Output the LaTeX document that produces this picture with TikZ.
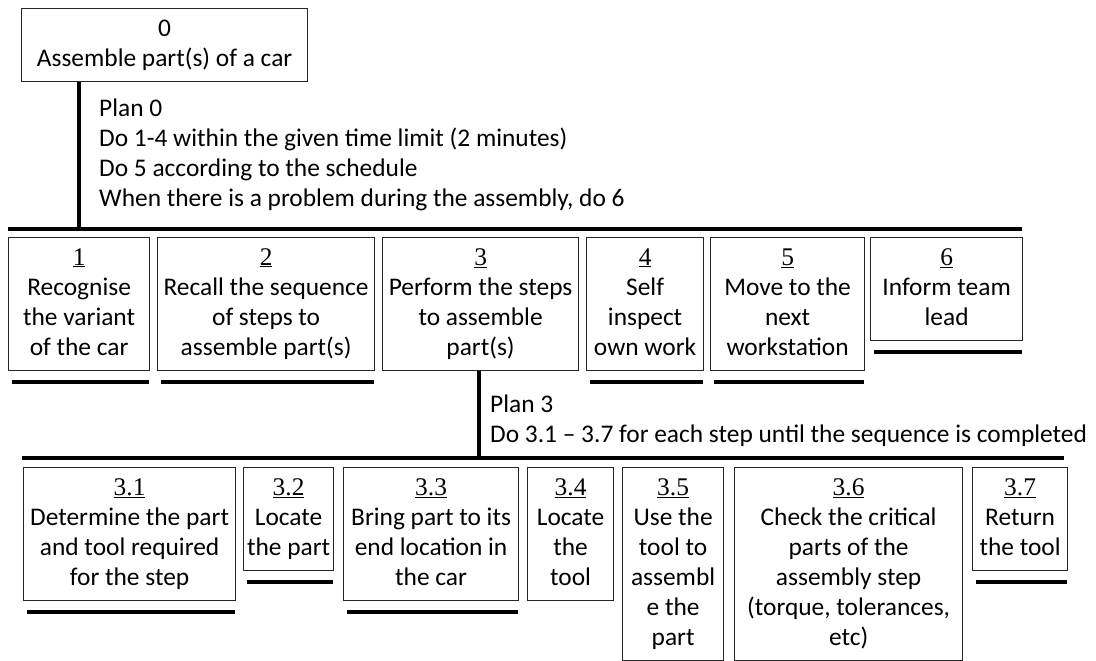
\documentclass[tikz,border=0pt]{standalone}
\usepackage{fontspec}
\setmainfont{Carlito}
\newfontfamily\numfont{Liberation Serif}
\usetikzlibrary{calc}

% number line (underlined, serif) above the task text
\newcommand{\tasktext}[2]{\strut{\numfont\underline{#1}}\\#2\strut}

\begin{document}
\begin{tikzpicture}[x=1pt,y=-1pt,
    task/.style={draw=black!85, line width=1.2pt, anchor=north west, align=center,
      inner xsep=1pt, inner ysep=6.5pt, font=\fontsize{25.4}{30}\selectfont},
    plan/.style={anchor=north west, align=left, inner sep=0pt,
      font=\fontsize{25.4}{30}\selectfont},
    bar/.style={line width=4.5pt},
    stem/.style={line width=4pt}]
            \useasboundingbox (0,0) rectangle (1096,661);

            % Top task
            \node[task, minimum width=286pt] (t0) at (21,8) {\strut 0\\Assemble part(s) of a car\strut};

            % Plan 0
            \coordinate (j0) at (79,229);
            \coordinate (bar1w) at (8,229);
            \coordinate (bar1e) at (1022,229);
            \draw[stem] (t0.south -| j0) -- (j0);
            \draw[bar] (bar1w) -- (bar1e);
            \node[plan] (p0) at (99,95) {\strut Plan 0\\Do 1-4 within the given time limit (2 minutes)\\Do 5 according to the schedule\\When there is a problem during the assembly, do 6\strut};

            % Subtasks 1-6
            \node[task, minimum width=141pt] (t1) at (8,237)   {\tasktext{1}{Recognise\\the variant\\of the car}};
            \node[task, minimum width=217pt] (t2) at (157,237) {\tasktext{2}{Recall the sequence\\of steps to\\assemble part(s)}};
            \node[task, minimum width=196pt] (t3) at (382,237) {\tasktext{3}{Perform the steps\\to assemble\\part(s)}};
            \node[task, minimum width=117pt] (t4) at (586,237) {\tasktext{4}{Self\\inspect\\own work}};
            \node[task, minimum width=154pt] (t5) at (710,237) {\tasktext{5}{Move to the\\next\\workstation}};
            \node[task, minimum width=152pt] (t6) at (870,237) {\tasktext{6}{Inform team\\lead}};

            % Plan 3
            \coordinate (j3) at (479,458);
            \coordinate (bar2w) at (22,458);
            \coordinate (bar2e) at (1064,458);
            \draw[stem] (t3.south -| j3) -- (j3);
            \draw[bar] (bar2w) -- (bar2e);
            \node[plan] (p3) at (490,391) {\strut Plan 3\\Do 3.1 -- 3.7 for each step until the sequence is completed\strut};

            % Subtasks 3.1-3.7
            \node[task, minimum width=212pt] (s1) at (23,467)  {\tasktext{3.1}{Determine the part\\and tool required\\for the step}};
            \node[task, minimum width=90pt]  (s2) at (243,467) {\tasktext{3.2}{Locate\\the part}};
            \node[task, minimum width=175pt] (s3) at (343,467) {\tasktext{3.3}{Bring part to its\\end location in\\the car}};
            \node[task, minimum width=86pt]  (s4) at (527,467) {\tasktext{3.4}{Locate\\the\\tool}};
            \node[task, minimum width=101pt] (s5) at (622,467) {\tasktext{3.5}{Use the\\tool to\\assembl\\e the\\part}};
            \node[task, minimum width=228pt] (s6) at (734,467) {\tasktext{3.6}{Check the critical\\parts of the\\assembly step\\(torque, tolerances,\\etc)}};
            \node[task, minimum width=95pt]  (s7) at (972,467) {\tasktext{3.7}{Return\\the tool}};

            % Stop lines under the leaf tasks
            \foreach \n in {t1,t2,t4,t5,t6,s1,s2,s3,s7}
                {
                    \draw[bar] ([xshift=4pt,yshift=-11pt]\n.south west) -- ([xshift=-1pt,yshift=-11pt]\n.south east);
                }

        \end{tikzpicture}
\end{document}
